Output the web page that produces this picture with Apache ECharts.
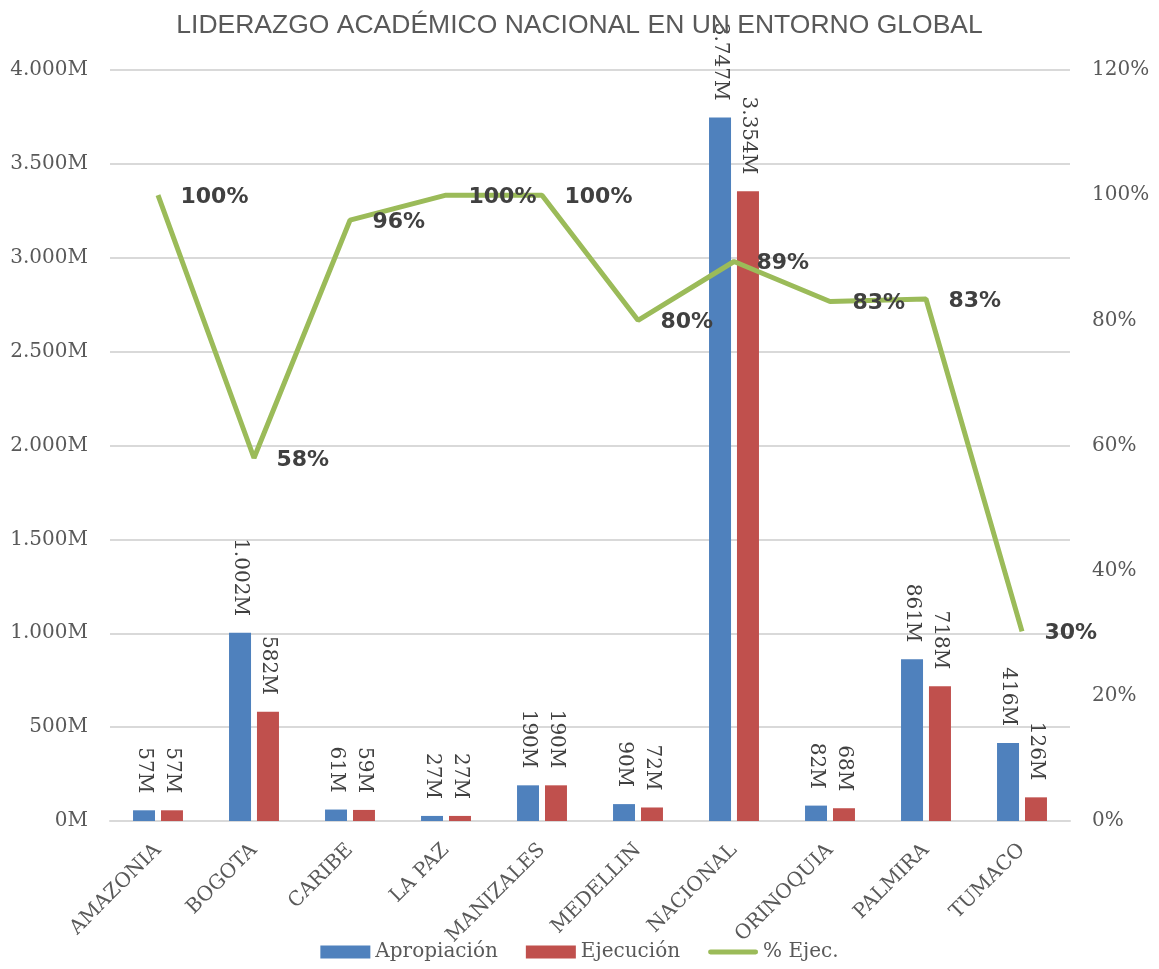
<!DOCTYPE html>
<html>
<head>
<meta charset="utf-8">
<script src="https://cdn.jsdelivr.net/npm/echarts@6/dist/echarts.min.js"></script>
<style>
  html, body { margin: 0; padding: 0; background: #fff; }
  #main { width: 1159px; height: 969px; }
</style>
</head>
<body>
<div id="main"></div>
<script>
// datos por sede
var sedes = ['AMAZONIA', 'BOGOTA', 'CARIBE', 'LA PAZ', 'MANIZALES', 'MEDELLIN', 'NACIONAL', 'ORINOQUIA', 'PALMIRA', 'TUMACO'];
var apropiacion = [57, 1002, 61, 27, 190, 90, 3747, 82, 861, 416];   // millones
var ejecucion = [57, 582, 59, 27, 190, 72, 3354, 68, 718, 126];      // millones
var pctEjec = [100, 58, 96, 100, 100, 80, 89.4, 83, 83.4, 30.3];     // %

var serif = '"DejaVu Serif", serif';
var txt = '#595959';

// 1002 -> "1.002M"
function fmtM(v) {
  var s = Math.round(v).toString();
  return s.replace(/\B(?=(\d{3})+(?!\d))/g, '.') + 'M';
}

var chart = echarts.init(document.getElementById('main'));

var barLabel = {
  show: true,
  position: 'top',
  distance: 17,
  rotate: -90,
  align: 'right',
  verticalAlign: 'middle',
  color: '#404040',
  fontFamily: serif,
  fontSize: 20,
  formatter: function (p) { return fmtM(p.value); }
};

var option = {
  animation: false,
  title: {
    text: 'LIDERAZGO ACADÉMICO NACIONAL EN UN ENTORNO GLOBAL',
    left: 'center',
    top: 7,
    textStyle: {
      color: txt,
      fontFamily: '"Liberation Sans", Arial, sans-serif',
      fontWeight: 'normal',
      fontSize: 26.5
    }
  },
  legend: {
    bottom: 2,
    left: 'center',
    itemWidth: 50,
    itemHeight: 13,
    itemGap: 28,
    symbolKeepAspect: true,
    textStyle: { color: txt, fontFamily: serif, fontSize: 20 },
    data: [
      { name: 'Apropiación', icon: 'rect' },
      { name: 'Ejecución', icon: 'rect' },
      { name: '% Ejec.', icon: 'path://M2,0 L48,0 A2.5,2.5 0 0 1 48,5 L2,5 A2.5,2.5 0 0 1 2,0 Z' }
    ]
  },
  grid: { left: 110, right: 89, top: 70, bottom: 148 },
  xAxis: {
    type: 'category',
    data: sedes,
    axisLine: { lineStyle: { color: '#d9d9d9', width: 2 } },
    axisTick: { show: false },
    axisLabel: {
      rotate: 45,
      interval: 0,
      margin: 26,
      color: txt,
      fontFamily: serif,
      fontSize: 20
    }
  },
  yAxis: [
    {
      type: 'value',
      min: 0,
      max: 4000,
      interval: 500,
      axisLine: { show: false },
      axisTick: { show: false },
      splitLine: { lineStyle: { color: '#d9d9d9', width: 2 } },
      axisLabel: {
        margin: 22,
        color: txt,
        fontFamily: serif,
        fontSize: 20,
        formatter: function (v) { return fmtM(v); }
      }
    },
    {
      type: 'value',
      min: 0,
      max: 120,
      interval: 20,
      axisLine: { show: false },
      axisTick: { show: false },
      splitLine: { show: false },
      axisLabel: {
        margin: 22,
        color: txt,
        fontFamily: serif,
        fontSize: 20,
        formatter: '{value}%'
      }
    }
  ],
  series: [
    {
      name: 'Apropiación',
      type: 'bar',
      data: apropiacion,
      barWidth: 22,
      barGap: '27%',
      itemStyle: { color: '#4f81bd' },
      label: barLabel
    },
    {
      name: 'Ejecución',
      type: 'bar',
      data: ejecucion,
      barWidth: 22,
      itemStyle: { color: '#c0504d' },
      label: barLabel
    },
    {
      name: '% Ejec.',
      type: 'line',
      yAxisIndex: 1,
      data: pctEjec,
      symbol: 'none',
      lineStyle: { color: '#9bbb59', width: 5 },
      itemStyle: { color: '#9bbb59' },
      z: 5
    },
    {
      // solo etiquetas de % sobre la línea
      name: 'etiquetas',
      type: 'line',
      yAxisIndex: 1,
      data: pctEjec,
      symbol: 'circle',
      symbolSize: 1,
      showSymbol: true,
      lineStyle: { width: 0, opacity: 0 },
      itemStyle: { color: 'rgba(0,0,0,0)' },
      label: {
        show: true,
        position: 'right',
        distance: 22,
        offset: [0, 2],
        color: '#404040',
        fontFamily: '"DejaVu Sans", sans-serif',
        fontWeight: 'bold',
        fontSize: 22,
        formatter: function (p) { return Math.round(p.value) + '%'; }
      },
      z: 6
    }
  ]
};

chart.setOption(option);
</script>
</body>
</html>
